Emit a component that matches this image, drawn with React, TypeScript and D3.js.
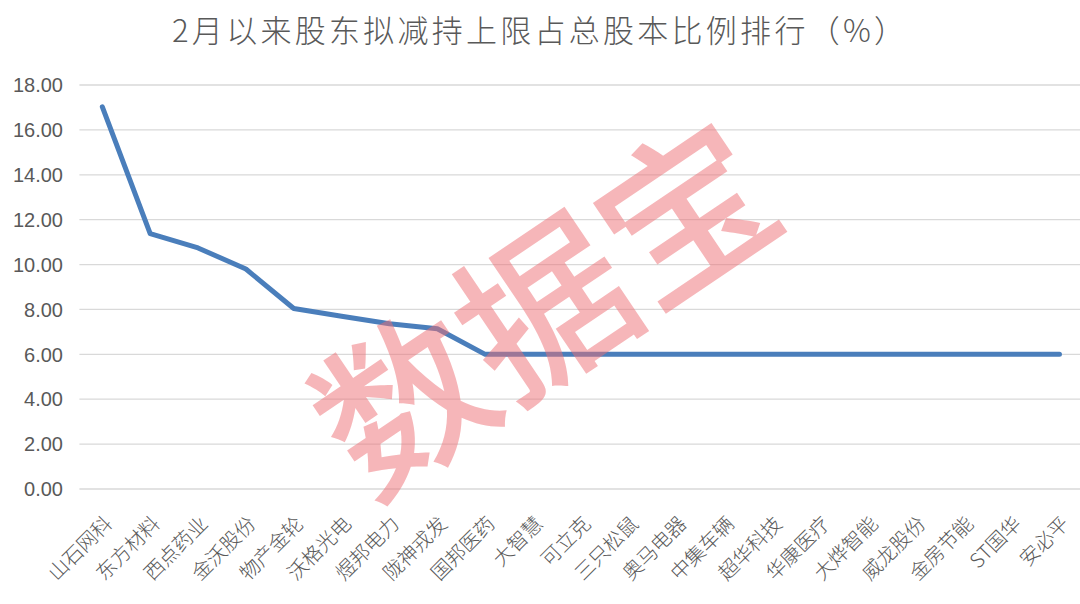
import React from "react";
import * as d3 from "d3";

const TITLE = "2月以来股东拟减持上限占总股本比例排行（%）";
const WATERMARK = "数据宝";

const categories: string[] = [
  "山石网科", "东方材料", "西点药业", "金沃股份", "物产金轮", "沃格光电", "煜邦电力",
  "陇神戎发", "国邦医药", "大智慧", "可立克", "三只松鼠", "奥马电器", "中集车辆",
  "超华科技", "华康医疗", "大烨智能", "威龙股份", "金房节能", "ST国华", "安必平",
];

const values: number[] = [
  17.03, 11.38, 10.74, 9.8, 8.04, 7.7, 7.36,
  7.14, 6.0, 6.0, 6.0, 6.0, 6.0, 6.0,
  6.0, 6.0, 6.0, 6.0, 6.0, 6.0, 6.0,
];

const yTicks: number[] = [0, 2, 4, 6, 8, 10, 12, 14, 16, 18];

const W = 1080;
const H = 604;
const plotLeft = 78.4;
const plotRight = 1083.4;
const plotTop = 85;
const plotBottom = 489;

export default function App() {
  const x = d3
    .scalePoint<string>()
    .domain(categories)
    .range([plotLeft, plotRight])
    .padding(0.5);
  const y = d3.scaleLinear().domain([0, 18]).range([plotBottom, plotTop]);

  const data = categories.map((c, i) => ({ c, v: values[i] }));
  const line = d3
    .line<{ c: string; v: number }>()
    .x((d) => x(d.c) as number)
    .y((d) => y(d.v));

  const textColor = "#595959";
  const cjk = "'Noto Sans CJK SC', 'Noto Sans', sans-serif";
  const latin = "'Liberation Sans', Arial, sans-serif";

  return (
    <svg
      width={W}
      height={H}
      viewBox={`0 0 ${W} ${H}`}
      style={{ position: "absolute", left: 0, top: 0, background: "#fff" }}
    >
      <rect x={0} y={0} width={W} height={H} fill="#ffffff" />
      <text
        x={538.5}
        y={42}
        textAnchor="middle"
        fontFamily={cjk}
        fontSize={31}
        fontWeight={300}
        fill={textColor}
        textLength={733}
        lengthAdjust="spacing"
      >
        {TITLE}
      </text>

      {yTicks.map((t) => (
        <g key={t}>
          <line
            x1={plotLeft + 1}
            x2={plotRight}
            y1={y(t)}
            y2={y(t)}
            stroke="#d9d9d9"
            strokeWidth={1.3}
          />
          <text
            x={63}
            y={y(t)}
            dy="0.36em"
            textAnchor="end"
            fontFamily={latin}
            fontSize={20}
            fill={textColor}
          >
            {t.toFixed(2)}
          </text>
        </g>
      ))}

      <path
        d={line(data) || ""}
        fill="none"
        stroke="#4a7ebb"
        strokeWidth={5}
        strokeLinejoin="round"
        strokeLinecap="round"
      />

      {categories.map((c) => (
        <text
          key={c}
          transform={`translate(${(x(c) as number) + 11},${plotBottom + 36}) rotate(-45)`}
          textAnchor="end"
          fontFamily={cjk}
          fontSize={20}
          fontWeight={300}
          fill={textColor}
        >
          {c}
        </text>
      ))}

      <text
        transform="translate(539,299) rotate(-34)"
        textAnchor="middle"
        dominantBaseline="central"
        fontFamily={cjk}
        fontSize={170}
        fontWeight={500}
        fill="#ee6e73"
        fillOpacity={0.5}
      >
        {WATERMARK}
      </text>
    </svg>
  );
}
